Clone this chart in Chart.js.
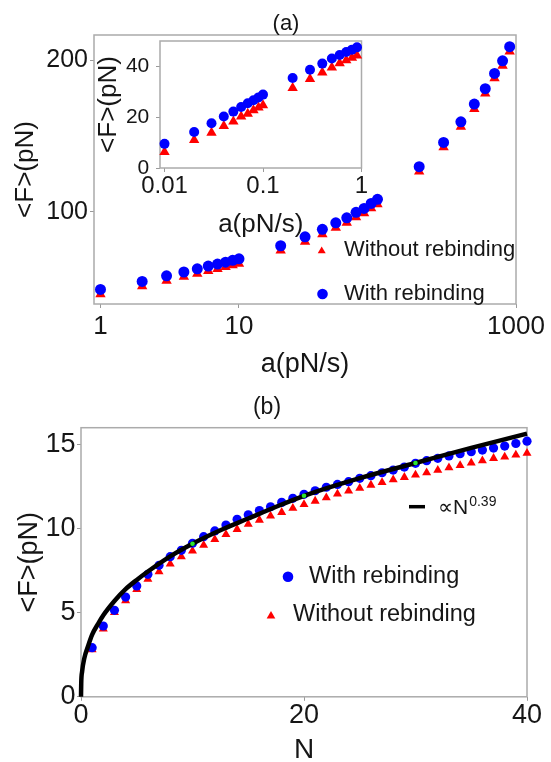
<!DOCTYPE html>
<html>
<head>
<meta charset="utf-8">
<script src="https://cdn.jsdelivr.net/npm/chart.js@4.4.0/dist/chart.umd.min.js"></script>
<style>
  html, body { margin: 0; padding: 0; background: #fff; overflow: hidden; }
  #wrap { position: relative; width: 551px; height: 762px; }
  canvas { position: absolute; left: 0; }
</style>
</head>
<body>
<div id="wrap">
  <canvas id="chart-a" width="551" height="390" style="top:0"></canvas>
  <canvas id="chart-inset" width="551" height="390" style="top:0"></canvas>
  <canvas id="chart-b" width="551" height="377" style="top:385px"></canvas>
</div>
<script>
// panel (a), main plot: <F> against loading rate
const outerRate = [1, 2, 3, 4, 5, 6, 7, 8, 9, 10, 20, 30, 40, 50, 60, 70, 80, 90, 100,
    200, 300, 400, 500, 600, 700, 800, 900];
const outerWith = [48.8, 54.1, 57.8, 60.3, 62.4, 64.2, 65.5, 66.8, 68.0, 69.0, 77.6, 83.5, 88.4,
    92.7, 96.0, 99.6, 102.2, 105.5, 108.2, 129.7, 145.7, 159.3, 171.0, 181.1, 191.2, 199.5, 208.8];
const outerWithout = [45.6, 50.9, 54.6, 57.1, 59.2, 61.0, 62.3, 63.6, 64.8, 65.8, 74.4, 80.3, 85.2,
    89.5, 92.8, 96.4, 99.0, 102.3, 105.0, 126.5, 142.5, 156.1, 167.8, 177.9, 188.0, 196.3, 205.6];
const outerXTicks = [1, 10, 1000];
const outerYTicks = [100, 200];

// panel (a), inset at small rates
const insetRate = [0.01, 0.02, 0.03, 0.04, 0.05, 0.06, 0.07, 0.08, 0.09, 0.1,
    0.2, 0.3, 0.4, 0.5, 0.6, 0.7, 0.8, 0.9];
const insetWith = [9.5, 14.2, 17.6, 20.3, 22.2, 24.0, 25.5, 26.7, 27.8, 28.9,
    35.4, 38.7, 41.1, 43.1, 44.5, 45.7, 46.6, 47.5];
const insetWithout = [6.3, 11.0, 13.9, 16.5, 18.3, 20.3, 21.4, 22.7, 23.8, 24.7,
    31.5, 35.0, 37.6, 39.6, 41.2, 42.4, 43.4, 44.3];
const insetXTicks = [0.01, 0.1, 1];
const insetYTicks = [0, 20, 40];

// panel (b): <F> against number of bonds N
const bondN = [1, 2, 3, 4, 5, 6, 7, 8, 9, 10, 11, 12, 13, 14, 15, 16, 17, 18, 19, 20,
    21, 22, 23, 24, 25, 26, 27, 28, 29, 30, 31, 32, 33, 34, 35, 36, 37, 38, 39, 40];
const bondWith = [2.92, 4.21, 5.14, 5.93, 6.59, 7.28, 7.82, 8.33, 8.71, 9.13, 9.52, 9.86, 10.21,
    10.55, 10.82, 11.07, 11.30, 11.56, 11.80, 12.04, 12.25, 12.46, 12.63, 12.79, 12.99, 13.15,
    13.32, 13.48, 13.66, 13.88, 14.04, 14.18, 14.32, 14.45, 14.57, 14.67, 14.79, 14.91, 15.06, 15.2];
const bondWithout = [2.8, 4.03, 5.02, 5.71, 6.39, 6.99, 7.44, 7.90, 8.33, 8.67, 9.02, 9.36, 9.66,
    9.96, 10.26, 10.51, 10.75, 10.97, 11.21, 11.44, 11.64, 11.84, 12.06, 12.24, 12.40, 12.59,
    12.75, 12.91, 13.05, 13.19, 13.32, 13.48, 13.62, 13.76, 13.90, 14.04, 14.18, 14.26, 14.38, 14.48];
// black power-law curve
const fitN = [0, 0.02, 0.1, 0.3, 0.6, 1, 1.5, 2, 3, 4, 5, 6, 8, 10, 12.5, 15, 17.5, 20, 25, 30, 35, 40];
const fitF = [0, 0.8, 1.5, 2.3, 2.95, 3.7, 4.3, 4.85, 5.7, 6.4, 6.95, 7.45, 8.35, 9.1, 9.9,
    10.6, 11.3, 11.95, 13.0, 13.9, 14.8, 15.65];
const greenN = [10, 20, 30];
const greenF = [9.1, 11.95, 13.9];
const bondXTicks = [0, 20, 40];
const bondYTicks = [0, 5, 10, 15];

const FONT = '"Liberation Sans", Arial, sans-serif';
const INK = '#161616';
const BLUE = '#0000ff';
const RED = '#ff0000';

function pairs(xs, ys) {
    return xs.map((x, i) => ({ x: x, y: ys[i] }));
}

function axis(o) {
    return {
        type: o.type || 'linear',
        min: o.min,
        max: o.max,
        afterFit: function (scale) {
            if (scale.isHorizontal()) scale.height = o.size;
            else scale.width = o.size;
        },
        afterBuildTicks: function (scale) {
            scale.ticks = o.ticks.map(v => ({ value: v }));
        },
        grid: { drawOnChartArea: false, tickLength: 4, color: '#9a9a9a', lineWidth: 1 },
        border: { display: false },
        ticks: {
            autoSkip: false, maxRotation: 0, minRotation: 0,
            padding: o.tickPad, color: INK,
            font: { family: FONT, size: o.tickSize, lineHeight: 1 },
            callback: v => String(v)
        },
        title: {
            display: true, text: o.title, color: INK,
            font: { family: FONT, size: o.titleSize, lineHeight: o.titleLH || 1 },
            padding: o.titlePad
        }
    };
}

function drawMark(ctx, m) {
    ctx.fillStyle = m.color;
    ctx.strokeStyle = m.color;
    if (m.style === 'circle') {
        ctx.beginPath();
        ctx.arc(m.x, m.y, m.r, 0, Math.PI * 2);
        ctx.fill();
    } else if (m.style === 'triangle') {
        let h = m.r * Math.sin(Math.PI / 3);
        ctx.beginPath();
        ctx.moveTo(m.x, m.y - m.r);
        ctx.lineTo(m.x + h, m.y + m.r / 2);
        ctx.lineTo(m.x - h, m.y + m.r / 2);
        ctx.closePath();
        ctx.fill();
    } else if (m.style === 'dash') {
        ctx.lineWidth = m.w;
        ctx.beginPath();
        ctx.moveTo(m.x, m.y);
        ctx.lineTo(m.x2, m.y);
        ctx.stroke();
    }
}

// frame round the plot area plus free text / legend keys
function makeDecor(spec) {
    return {
        id: 'decor',
        beforeDatasetsDraw(chart) {
            let a = chart.chartArea, ctx = chart.ctx;
            ctx.save();
            ctx.strokeStyle = '#ababab';
            ctx.lineWidth = 1.5;
            ctx.strokeRect(a.left, a.top, a.right - a.left, a.bottom - a.top);
            ctx.restore();
        },
        afterDraw(chart) {
            let ctx = chart.ctx;
            ctx.save();
            (spec.marks || []).forEach(m => drawMark(ctx, m));
            (spec.texts || []).forEach(t => {
                ctx.fillStyle = INK;
                ctx.textBaseline = 'middle';
                ctx.textAlign = t.align || 'left';
                ctx.font = t.size + 'px ' + FONT;
                ctx.fillText(t.text, t.x, t.y);
                if (t.sup) {
                    let w = ctx.measureText(t.text).width;
                    ctx.textAlign = 'left';
                    ctx.font = t.supSize + 'px ' + FONT;
                    ctx.fillText(t.sup, t.x + w + 1, t.y + t.supDy);
                }
            });
            ctx.restore();
        }
    };
}

function baseOptions(padding, scales) {
    return {
        responsive: false,
        animation: false,
        events: [],
        layout: { padding: padding },
        plugins: { legend: { display: false }, tooltip: { enabled: false } },
        scales: scales
    };
}

function showOuter() {
    let scales = {
        x: axis({ type: 'logarithmic', min: 0.898, max: 1000, ticks: outerXTicks, size: 86,
            tickSize: 26, tickPad: 5.7, title: 'a(pN/s)', titleSize: 27, titlePad: { top: 0, bottom: 11.5 } }),
        y: axis({ min: 39.2, max: 216.5, ticks: outerYTicks, size: 94,
            tickSize: 25, tickPad: 2, title: '<F>(pN)', titleSize: 26, titlePad: { top: 13, bottom: 0 } })
    };
    new Chart(document.getElementById('chart-a'), {
        type: 'scatter',
        data: {
            datasets: [{
                label: 'With rebinding',
                data: pairs(outerRate, outerWith),
                pointStyle: 'circle', pointRadius: 5.5,
                pointBackgroundColor: BLUE, pointBorderWidth: 0, clip: false
            }, {
                label: 'Without rebinding',
                data: pairs(outerRate, outerWithout),
                pointStyle: 'triangle', pointRadius: 6,
                pointBackgroundColor: RED, pointBorderWidth: 0, clip: false
            }]
        },
        options: baseOptions({ left: 0, top: 35, right: 35, bottom: 0 }, scales),
        plugins: [makeDecor({
            texts: [
                { text: '(a)', x: 286, y: 24, size: 22, align: 'center' },
                { text: 'Without rebinding', x: 344, y: 250, size: 22 },
                { text: 'With rebinding', x: 344, y: 294, size: 22 }
            ],
            marks: [
                { style: 'triangle', x: 321.7, y: 251, r: 4.6, color: RED },
                { style: 'circle', x: 322.5, y: 294, r: 5.3, color: BLUE }
            ]
        })]
    });
}

function showInset() {
    let scales = {
        x: axis({ type: 'logarithmic', min: 0.009, max: 1, ticks: insetXTicks, size: 75,
            tickSize: 24, tickPad: 2.7, title: 'a(pN/s)', titleSize: 26, titlePad: { top: 0, bottom: 5 } }),
        y: axis({ min: 0, max: 50, ticks: insetYTicks, size: 75,
            tickSize: 21, tickPad: 6.7, title: '<F>(pN)', titleSize: 26, titlePad: { top: 11, bottom: 0 } })
    };
    new Chart(document.getElementById('chart-inset'), {
        type: 'scatter',
        data: {
            datasets: [{
                label: 'With rebinding',
                data: pairs(insetRate, insetWith),
                pointStyle: 'circle', pointRadius: 5,
                pointBackgroundColor: BLUE, pointBorderWidth: 0, clip: false
            }, {
                label: 'Without rebinding',
                data: pairs(insetRate, insetWithout),
                pointStyle: 'triangle', pointRadius: 6,
                pointBackgroundColor: RED, pointBorderWidth: 0, clip: false
            }]
        },
        options: baseOptions({ left: 85, top: 41, right: 189.5, bottom: 147 }, scales),
        plugins: [makeDecor({})]
    });
}

function showBonds() {
    let scales = {
        x: axis({ min: 0, max: 40, ticks: bondXTicks, size: 65.2,
            tickSize: 27, tickPad: 1.7, title: 'N', titleSize: 28, titleLH: 0.8, titlePad: { top: 0, bottom: 0.8 } }),
        y: axis({ min: 0, max: 16, ticks: bondYTicks, size: 81,
            tickSize: 27, tickPad: 1.5, title: '<F>(pN)', titleSize: 27, titlePad: { top: 16.5, bottom: 0 } })
    };
    new Chart(document.getElementById('chart-b'), {
        type: 'scatter',
        data: {
            datasets: [{
                label: 'marks',
                data: pairs(greenN, greenF),
                pointStyle: 'circle', pointRadius: 2.3,
                pointBackgroundColor: '#2ee62e', pointBorderWidth: 0
            }, {
                label: 'N^0.39',
                data: pairs(fitN, fitF),
                showLine: true, pointRadius: 0,
                borderColor: '#000', borderWidth: 4.5,
                cubicInterpolationMode: 'monotone', clip: false
            }, {
                label: 'With rebinding',
                data: pairs(bondN, bondWith),
                pointStyle: 'circle', pointRadius: 4.6,
                pointBackgroundColor: BLUE, pointBorderWidth: 0, clip: false
            }, {
                label: 'Without rebinding',
                data: pairs(bondN, bondWithout),
                pointStyle: 'triangle', pointRadius: 5.2,
                pointBackgroundColor: RED, pointBorderWidth: 0, clip: false
            }]
        },
        options: baseOptions({ left: 0, top: 42.7, right: 24, bottom: 0 }, scales),
        plugins: [makeDecor({
            texts: [
                { text: '(b)', x: 267, y: 23, size: 23, align: 'center' },
                { text: 'With rebinding', x: 309, y: 191.7, size: 23.5 },
                { text: 'Without rebinding', x: 293, y: 230, size: 23.5 },
                { text: '\u221dN', x: 438, y: 123.7, size: 21, sup: '0.39', supSize: 14, supDy: -7 }
            ],
            marks: [
                { style: 'circle', x: 288, y: 191.7, r: 5.3, color: BLUE },
                { style: 'triangle', x: 271, y: 231, r: 5, color: RED },
                { style: 'dash', x: 409, x2: 425, y: 121.7, w: 3.5, color: '#000' }
            ]
        })]
    });
}

showOuter();
showInset();
showBonds();
</script>
</body>
</html>
